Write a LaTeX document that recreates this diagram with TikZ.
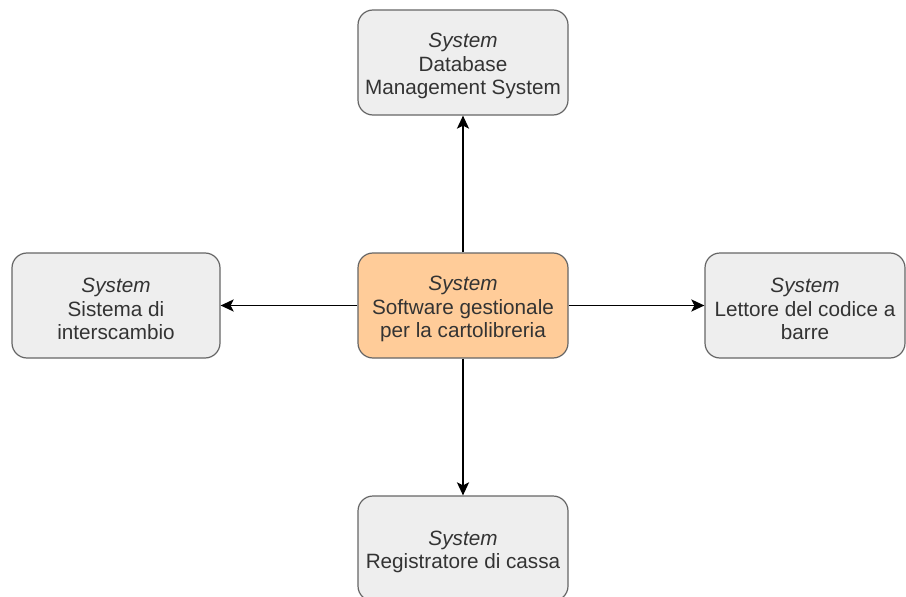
\documentclass[tikz,border=0pt]{standalone}
\usepackage{fontspec}
\setmainfont{Liberation Sans}
\usetikzlibrary{arrows.meta}
\definecolor{boxfill}{HTML}{EEEEEE}
\definecolor{boxline}{HTML}{666666}
\definecolor{mainfill}{HTML}{FFCC99}
\definecolor{labeltext}{HTML}{333333}
\tikzset{
  sysbox/.style={draw=boxline, fill=boxfill, line width=1.2pt,
    rounded corners=15pt, minimum width=210pt, minimum height=105pt,
    inner sep=0pt},
  boxtext/.style={align=center, text=labeltext, inner sep=0pt,
    yshift=-3.5pt, font=\fontsize{20.7}{23.6}\selectfont},
  link/.style={draw=black, line width=1.9pt,
    -{Stealth[length=13pt,width=12pt,inset=3pt]}},
}
\begin{document}
\begin{tikzpicture}[x=1pt,y=-1pt]
\useasboundingbox[fill=white] (0,0) rectangle (906,597);
\node[sysbox, fill=mainfill,
  label={[boxtext]center:{\textit{System}\\Software gestionale\\per la cartolibreria}}]
  (sw) at (463,305.5) {};
\node[sysbox,
  label={[boxtext]center:{\textit{System}\\Database\\Management System}}]
  (db) at (463,62.5) {};
\node[sysbox, minimum width=208pt,
  label={[boxtext]center:{\textit{System}\\Sistema di\\interscambio}}]
  (ex) at (116,305.5) {};
\node[sysbox, minimum width=200pt,
  label={[boxtext]center:{\textit{System}\\Lettore del codice a\\barre}}]
  (bc) at (805,305.5) {};
\node[sysbox,
  label={[boxtext]center:{\textit{System}\\Registratore di cassa}}]
  (cr) at (463,548.5) {};
\draw[link] (sw) -- (db);
\draw[link] (sw) -- (ex);
\draw[link] (sw) -- (bc);
\draw[link] (sw) -- (cr);
\end{tikzpicture}
\end{document}
